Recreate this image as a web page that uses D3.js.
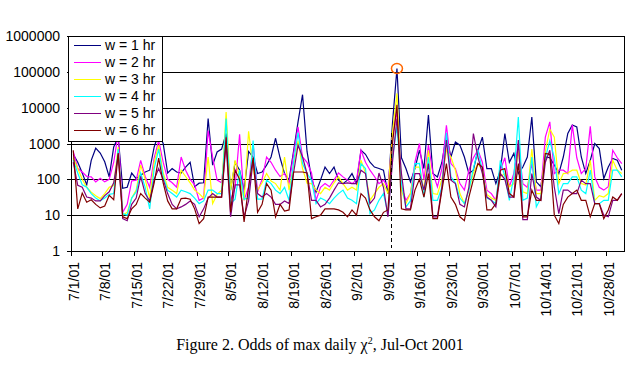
<!DOCTYPE html>
<html>
<head>
<meta charset="utf-8">
<script src="https://cdn.jsdelivr.net/npm/d3@7"></script>
<style>
  body { margin: 0; background: #fff; }
  svg { display: block; }
</style>
</head>
<body>
<svg id="chart" width="641" height="372"></svg>
<script>
// daily values, Jul 1 - Oct 31 2001 (one line per week)
var w1 = [500, 300, 150, 70, 340, 740, 540,
  310, 117, 800, 1500, 56, 60, 150,
  105, 130, 160, 180, 800, 1900, 1000,
  150, 200, 160, 150, 220, 300, 62,
  78, 80, 5000, 250, 580, 700, 1900,
  50, 300, 180, 50, 600, 420, 145,
  160, 250, 420, 1400, 400, 145, 95,
  600, 4000, 23000, 600, 105, 44, 95,
  220, 145, 220, 95, 76, 95, 145,
  76, 650, 500, 300, 220, 200, 180,
  40, 3600, 124000, 400, 200, 85, 200,
  650, 200, 6200, 145, 117, 300, 1700,
  420, 1100, 900, 420, 145, 180, 650,
  1500, 200, 200, 76, 180, 1900, 300,
  530, 145, 220, 420, 5500, 85, 62,
  420, 400, 250, 145, 420, 1900, 3300,
  2900, 420, 145, 340, 1000, 720, 105,
  220, 380, 340, 180]
var w2 = [600, 200, 160, 120, 117, 85, 107,
  85, 100, 300, 1900, 12, 20, 90,
  95, 340, 120, 60, 400, 1200, 300,
  100, 80, 60, 420, 180, 100, 70,
  26, 30, 2300, 420, 95, 80, 1500,
  26, 60, 1800, 26, 60, 1000, 45,
  100, 420, 300, 180, 120, 145, 76,
  500, 2900, 420, 300, 150, 26, 60,
  76, 62, 95, 150, 117, 95, 76,
  95, 650, 300, 180, 120, 76, 95,
  60, 1500, 8000, 62, 26, 40, 300,
  1000, 95, 900, 150, 62, 200, 3200,
  275, 200, 76, 50, 180, 400, 650,
  300, 50, 40, 26, 180, 400, 62,
  145, 1000, 76, 60, 275, 50, 50,
  1500, 4000, 145, 180, 180, 145, 3300,
  400, 145, 200, 3000, 117, 60, 50,
  62, 650, 400, 275]
var w3 = [400, 200, 100, 60, 44, 35, 29,
  40, 60, 68, 800, 10, 12, 30,
  50, 250, 100, 30, 300, 900, 150,
  60, 50, 40, 180, 120, 80, 50,
  40, 30, 420, 21, 38, 50, 7600,
  50, 340, 120, 26, 2200, 200, 50,
  80, 145, 90, 76, 50, 420, 50,
  250, 1200, 200, 78, 76, 50, 40,
  60, 50, 80, 117, 76, 50, 60,
  50, 340, 150, 26, 40, 60, 76,
  40, 2000, 25000, 50, 21, 40, 220,
  220, 50, 650, 40, 38, 100, 650,
  420, 180, 40, 21, 50, 150, 275,
  180, 38, 30, 26, 117, 145, 62,
  76, 650, 45, 40, 700, 40, 40,
  600, 2500, 1500, 76, 145, 150, 180,
  180, 76, 70, 340, 26, 35, 32,
  40, 340, 180, 145]
var w4 = [350, 150, 70, 60, 40, 30, 25,
  30, 38, 40, 700, 11, 10, 30,
  45, 150, 60, 15, 200, 700, 120,
  50, 40, 32, 50, 45, 40, 30,
  21, 25, 50, 50, 40, 40, 5000,
  21, 28, 180, 28, 30, 1200, 28,
  28, 95, 76, 50, 40, 60, 26,
  300, 2000, 275, 145, 95, 21, 30,
  26, 21, 30, 40, 50, 30, 26,
  21, 275, 200, 11, 14, 26, 40,
  11, 400, 3000, 76, 17, 25, 275,
  280, 32, 420, 26, 26, 60, 2000,
  117, 80, 30, 21, 50, 200, 650,
  180, 30, 26, 21, 340, 120, 26,
  117, 5500, 26, 30, 420, 17, 30,
  400, 1200, 400, 40, 76, 76, 117,
  117, 50, 40, 180, 21, 21, 26,
  26, 180, 180, 117]
var w5 = [300, 68, 60, 32, 30, 25, 25,
  35, 45, 80, 500, 8, 7, 20,
  30, 120, 40, 25, 100, 200, 100,
  40, 20, 15, 17, 20, 25, 20,
  9, 15, 30, 40, 32, 32, 1000,
  9, 70, 70, 9, 25, 340, 40,
  32, 40, 32, 20, 20, 25, 21,
  150, 900, 420, 145, 26, 26, 17,
  20, 30, 50, 80, 76, 80, 76,
  76, 180, 145, 21, 30, 150, 60,
  9, 300, 5000, 145, 15, 15, 145,
  145, 50, 275, 9, 9, 60, 1240,
  95, 76, 20, 17, 60, 1900, 420,
  145, 32, 26, 17, 145, 100, 32,
  32, 1240, 7.5, 7.5, 145, 32, 26,
  300, 650, 60, 11, 50, 50, 40,
  40, 95, 76, 76, 21, 21, 10,
  9, 26, 26, 40]
var w6 = [650, 15, 41, 23, 27, 20, 16,
  18, 36, 27, 540, 9, 8, 15,
  20, 40, 30, 23, 80, 390, 80,
  25, 15, 15, 29, 30, 28, 15,
  5.8, 8, 32, 32, 32, 32, 1500,
  12, 180, 100, 6.5, 60, 400, 12,
  20, 76, 50, 9, 20, 13, 14,
  160, 160, 160, 150, 8, 9, 10,
  15, 15, 15, 14, 12, 9, 14,
  10, 40, 30, 14, 9, 7, 12,
  14, 1000, 12000, 15, 14, 14, 50,
  100, 32, 145, 8, 8, 50, 275,
  32, 20, 9, 7, 32, 100, 275,
  220, 14, 14, 21, 180, 200, 40,
  32, 275, 9, 9, 50, 26, 26,
  530, 500, 10, 5.8, 20, 32, 40,
  50, 26, 26, 9, 21, 21, 8,
  14, 32, 26, 40]

var seriesNames = ["w = 1 hr", "w = 2 hr", "w = 3 hr", "w = 4 hr", "w = 5 hr", "w = 6 hr"]
var seriesColors = ["#000080", "#ff00ff", "#ffff00", "#00ffff", "#800080", "#800000"]
var yTicks = [1, 10, 100, 1000, 10000, 100000, 1000000]
var xTickLabels = ["7/1/01", "7/8/01", "7/15/01", "7/22/01", "7/29/01", "8/5/01", "8/12/01",
  "8/19/01", "8/26/01", "9/2/01", "9/9/01", "9/16/01", "9/23/01", "9/30/01",
  "10/7/01", "10/14/01", "10/21/01", "10/28/01"]
var firstDay = "7/1/01", lastDay = "11/1/01"
var markedDay = "9/11/01"   // circled peak
var dashDay = "9/10/01"     // dashed marker just before it

var parseDate = d3.timeParse("%m/%d/%y")
var days = d3.timeDay.range(parseDate(firstDay), parseDate(lastDay))
var allSeries = [w1, w2, w3, w4, w5, w6]

var svg = d3.select("#chart")
var plotL = 71, plotR = 624, plotT = 36, plotB = 251

var x = d3.scaleTime()
  .domain([parseDate(firstDay), parseDate(lastDay)])
  .range([plotL, plotR])
var y = d3.scaleLog()
  .domain([1, 1000000])
  .range([plotB, plotT])
var mid = d => d3.timeHour.offset(d, 12)

// gridlines
svg.append("g")
  .selectAll("line")
  .data(yTicks)
  .join("line")
  .attr("x1", plotL - 4)
  .attr("x2", plotR)
  .attr("y1", d => Math.round(y(d)) + 0.5)
  .attr("y2", d => Math.round(y(d)) + 0.5)
  .attr("stroke", "#000")
  .attr("shape-rendering", "crispEdges")

// y labels
svg.append("g")
  .selectAll("text")
  .data(yTicks)
  .join("text")
  .attr("x", 60)
  .attr("y", d => y(d) + 5)
  .attr("text-anchor", "end")
  .style("font", "14px 'Liberation Sans', Arial, sans-serif")
  .text(d3.format("d"))

// data lines
var line = d3.line()
  .x((d, i) => x(mid(days[i])))
  .y(d => y(d))

svg.append("g")
  .selectAll("path")
  .data(allSeries)
  .join("path")
  .attr("d", line)
  .attr("fill", "none")
  .attr("stroke", (d, i) => seriesColors[i])
  .attr("stroke-width", 1.2)

// dashed marker
var dx = Math.round(x(d3.timeHour.offset(parseDate(dashDay), 6))) + 0.5
svg.append("line")
  .attr("x1", dx).attr("x2", dx)
  .attr("y1", y(2000)).attr("y2", y(1.2))
  .attr("stroke", "#000")
  .attr("stroke-dasharray", "4,3")
  .attr("shape-rendering", "crispEdges")

// circle on the peak
var peakIdx = d3.timeDay.count(parseDate(firstDay), parseDate(markedDay))
svg.append("ellipse")
  .attr("cx", x(mid(days[peakIdx])))
  .attr("cy", y(w1[peakIdx]))
  .attr("rx", 5.5)
  .attr("ry", 5)
  .attr("fill", "none")
  .attr("stroke", "#ff6600")
  .attr("stroke-width", 1.5)

// frame
svg.append("rect")
  .attr("x", plotL + 0.5)
  .attr("y", Math.round(plotT) + 0.5)
  .attr("width", plotR - plotL)
  .attr("height", plotB - plotT)
  .attr("fill", "none")
  .attr("stroke", "#000")
  .attr("shape-rendering", "crispEdges")

// x axis ticks + labels
var xt = svg.append("g")
xt.selectAll("line")
  .data(xTickLabels)
  .join("line")
  .attr("x1", d => Math.round(x(parseDate(d))) + 0.5)
  .attr("x2", d => Math.round(x(parseDate(d))) + 0.5)
  .attr("y1", plotB)
  .attr("y2", plotB + 5)
  .attr("stroke", "#000")
  .attr("shape-rendering", "crispEdges")
xt.selectAll("text")
  .data(xTickLabels)
  .join("text")
  .attr("transform", d => `translate(${x(parseDate(d)) + 3},262) rotate(-90)`)
  .attr("text-anchor", "end")
  .attr("dy", "0.35em")
  .style("font", "14px 'Liberation Sans', Arial, sans-serif")
  .text(d => d)

// legend
var legend = svg.append("g")
legend.append("rect")
  .attr("x", 68.5).attr("y", 36.5)
  .attr("width", 94).attr("height", 105)
  .attr("fill", "#fff").attr("stroke", "#000")
  .attr("shape-rendering", "crispEdges")
var items = legend.selectAll(".item")
  .data(seriesNames)
  .join("g")
  .attr("class", "item")
  .attr("transform", (d, i) => `translate(0,${45 + i * 17})`)
items.append("line")
  .attr("x1", 74).attr("x2", 101)
  .attr("y1", 0.5).attr("y2", 0.5)
  .attr("stroke", (d, i) => seriesColors[i])
  .attr("shape-rendering", "crispEdges")
items.append("text")
  .attr("x", 105).attr("y", 5)
  .style("font", "14px 'Liberation Sans', Arial, sans-serif")
  .text(d => d)

// caption
var cap = svg.append("text")
  .attr("x", 320).attr("y", 350)
  .attr("text-anchor", "middle")
  .style("font", "16px 'Liberation Serif', 'Times New Roman', serif")
cap.append("tspan").text("Figure 2. Odds of max daily \u03c7")
cap.append("tspan").attr("dy", -6).style("font-size", "10px").text("2")
cap.append("tspan").attr("dy", 6).text(", Jul-Oct 2001")
</script>
</body>
</html>
